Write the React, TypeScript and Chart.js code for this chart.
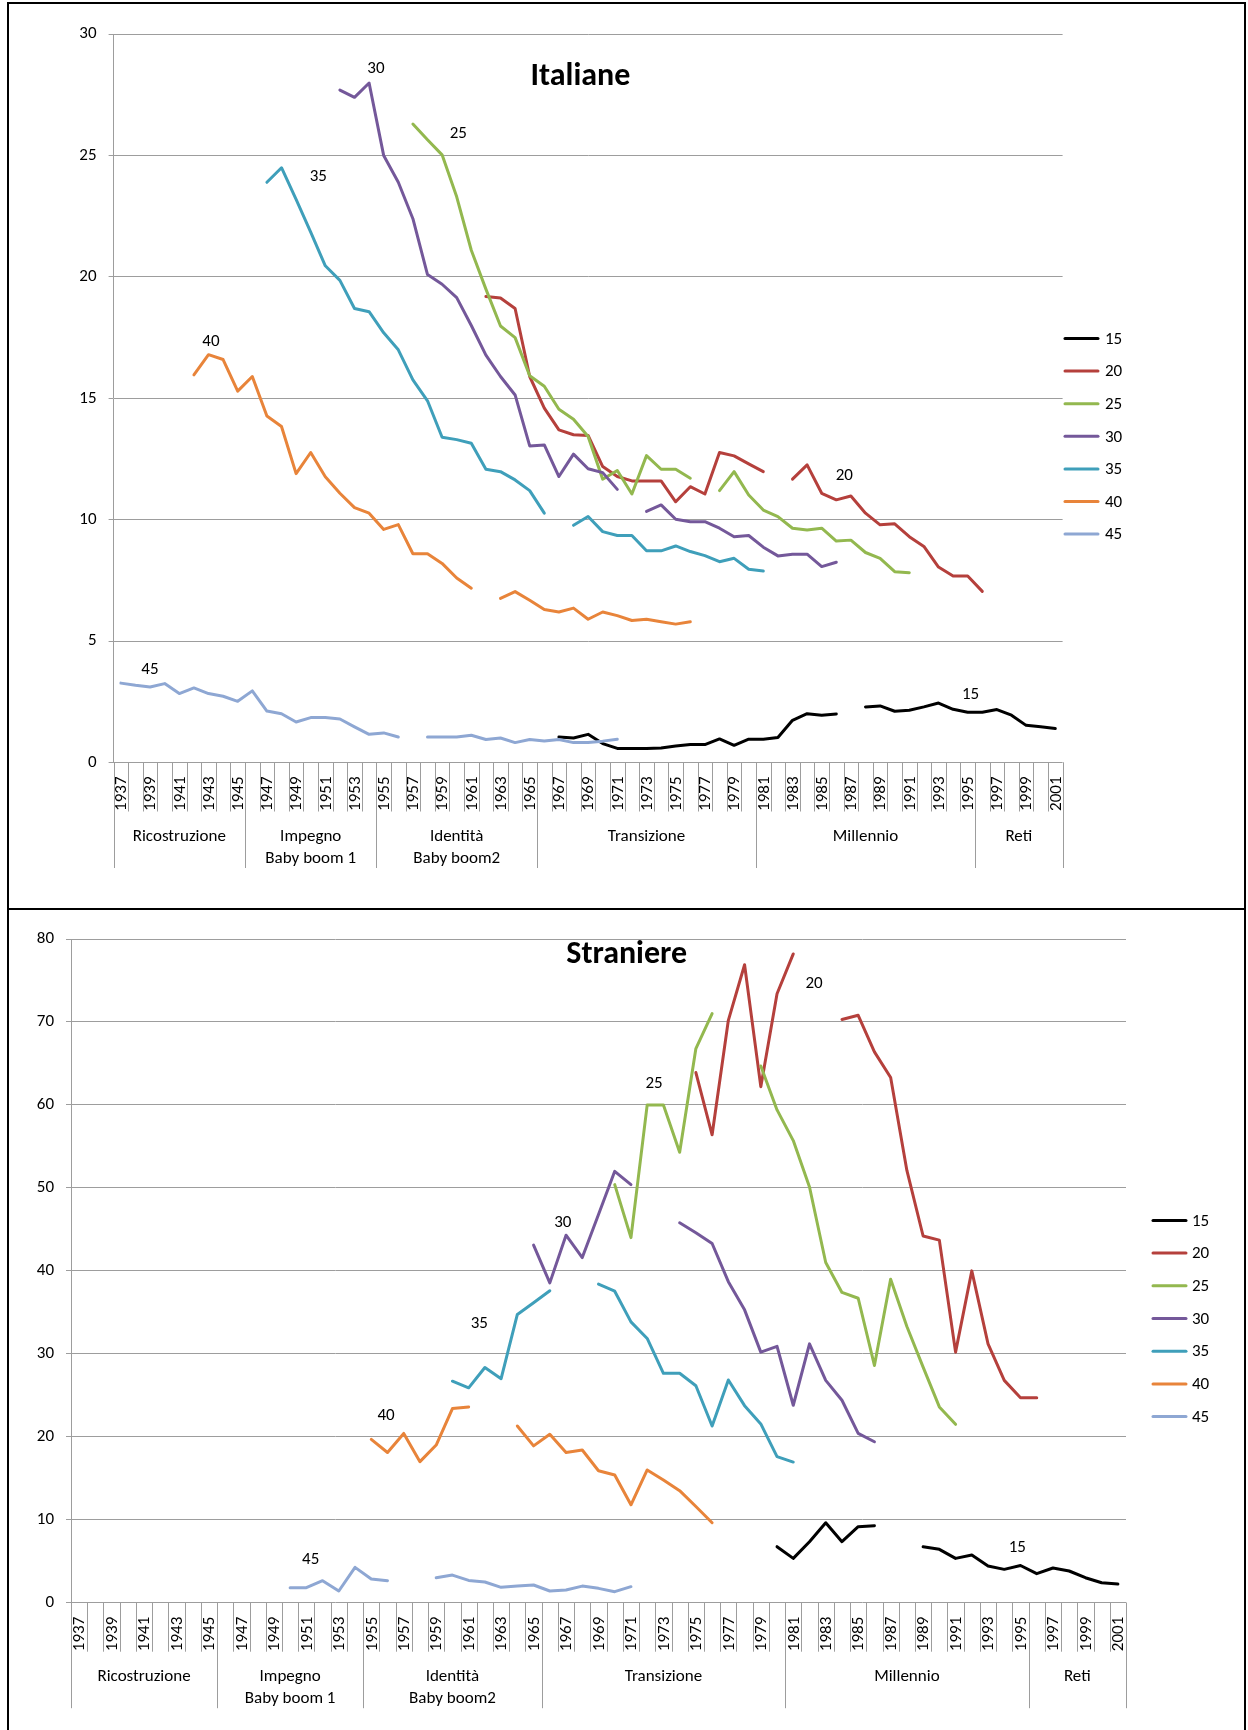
import React, { useEffect, useRef } from 'react';
import { Chart, registerables } from 'chart.js';

Chart.register(...registerables);

// ---------- categories ----------
const YEARS = [
  '1937', '1938', '1939', '1940', '1941', '1942', '1943', '1944', '1945', '1946',
  '1947', '1948', '1949', '1950', '1951', '1952', '1953', '1954', '1955', '1956',
  '1957', '1958', '1959', '1960', '1961', '1962', '1963', '1964', '1965', '1966',
  '1967', '1968', '1969', '1970', '1971', '1972', '1973', '1974', '1975', '1976',
  '1977', '1978', '1979', '1980', '1981', '1982', '1983', '1984', '1985', '1986',
  '1987', '1988', '1989', '1990', '1991', '1992', '1993', '1994', '1995', '1996',
  '1997', '1998', '1999', '2000', '2001',
];
const GROUP_NAMES = ['Ricostruzione', 'Impegno\nBaby boom 1', 'Identità\nBaby boom2', 'Transizione', 'Millennio', 'Reti'];
const GROUP_SPANS = [9, 9, 11, 15, 15, 6];

const SERIES_NAMES = ['15', '20', '25', '30', '35', '40', '45'];
const SERIES_COLORS = ['#000000', '#B5403C', '#93B84F', '#74589A', '#3F9FBA', '#E8843A', '#8EA7D3'];

// ---------- Italiane ----------
const IT_STARTS = [1967, 1962, 1957, 1952, 1947, 1942, 1937];
const IT_15 = [1.05, 1.01, 1.16, 0.78, 0.58, 0.58, 0.58, 0.6, 0.68, 0.74, 0.74, 0.97, 0.71, 0.96, 0.96, 1.03, 1.74, 2.01, 1.95, 2.0, null, 2.29, 2.33, 2.11, 2.15, 2.29, 2.45, 2.19, 2.07, 2.07, 2.18, 1.95, 1.53, 1.47, 1.4];
const IT_20 = [19.2, 19.13, 18.7, 15.9, 14.6, 13.7, 13.5, 13.47, 12.19, 11.78, 11.6, 11.6, 11.6, 10.74, 11.36, 11.06, 12.77, 12.63, 12.3, 11.98, null, 11.67, 12.26, 11.09, 10.82, 10.98, 10.27, 9.79, 9.83, 9.3, 8.9, 8.05, 7.68, 7.68, 7.05];
const IT_25 = [26.3, 25.65, 25.03, 23.3, 21.1, 19.5, 17.98, 17.5, 15.93, 15.5, 14.55, 14.14, 13.43, 11.67, 12.03, 11.06, 12.64, 12.08, 12.08, 11.71, null, 11.2, 11.98, 11.02, 10.4, 10.13, 9.65, 9.58, 9.65, 9.12, 9.16, 8.65, 8.41, 7.86, 7.82];
const IT_30 = [27.7, 27.4, 27.99, 25.0, 23.9, 22.4, 20.1, 19.7, 19.15, 18.0, 16.78, 15.9, 15.14, 13.04, 13.08, 11.78, 12.7, 12.1, 11.94, 11.25, null, 10.34, 10.61, 10.02, 9.92, 9.92, 9.65, 9.3, 9.35, 8.87, 8.51, 8.58, 8.58, 8.07, 8.25];
const IT_35 = [23.9, 24.5, 23.2, 21.85, 20.46, 19.86, 18.7, 18.57, 17.7, 17.0, 15.76, 14.9, 13.4, 13.3, 13.15, 12.08, 11.98, 11.64, 11.2, 10.27, null, 9.77, 10.13, 9.51, 9.35, 9.35, 8.72, 8.72, 8.92, 8.69, 8.52, 8.27, 8.41, 7.96, 7.89];
const IT_40 = [15.97, 16.8, 16.6, 15.3, 15.9, 14.27, 13.84, 11.9, 12.77, 11.77, 11.09, 10.5, 10.27, 9.6, 9.8, 8.6, 8.6, 8.2, 7.6, 7.18, null, 6.76, 7.04, 6.68, 6.3, 6.2, 6.36, 5.9, 6.2, 6.05, 5.85, 5.9, 5.8, 5.7, 5.8];
const IT_45 = [3.27, 3.18, 3.11, 3.25, 2.84, 3.07, 2.84, 2.73, 2.52, 2.95, 2.12, 2.01, 1.67, 1.85, 1.85, 1.79, 1.47, 1.16, 1.22, 1.05, null, 1.05, 1.05, 1.05, 1.12, 0.95, 1.01, 0.82, 0.95, 0.89, 0.95, 0.82, 0.82, 0.88, 0.96];
const IT_TICKS = [0, 5, 10, 15, 20, 25, 30];
// series tags: [text, category index, value]
const IT_TAGS: [string, number, number][] = [
  ['30', 17.47, 28.56], ['25', 23.11, 25.9], ['35', 13.52, 24.11], ['40', 6.17, 17.33],
  ['45', 1.99, 3.81], ['20', 49.55, 11.8], ['15', 58.2, 2.81],
];
const IT_TITLE: [string, number, number] = ['Italiane', 31.47, 28.25];

// ---------- Straniere ----------
const ST_STARTS = [1980, 1975, 1970, 1965, 1960, 1955, 1950];
const ST_15 = [6.75, 5.34, 7.35, 9.64, 7.35, 9.16, 9.28, null, null, 6.75, 6.43, 5.34, 5.74, 4.42, 4.02, 4.48, 3.5, 4.18, 3.82, 3.01, 2.41, 2.25];
const ST_20 = [63.9, 56.4, 70.2, 76.9, 62.2, 73.4, 78.2, null, null, 70.3, 70.8, 66.4, 63.3, 52.1, 44.2, 43.7, 30.2, 40.0, 31.2, 26.8, 24.7, 24.7];
const ST_25 = [50.4, 44.0, 60.0, 60.0, 54.3, 66.8, 71.0, null, null, 64.7, 59.4, 55.7, 50.1, 41.0, 37.4, 36.7, 28.6, 39.0, 33.3, 28.4, 23.6, 21.5];
const ST_30 = [43.1, 38.55, 44.3, 41.6, 46.8, 52.0, 50.4, null, null, 45.8, 44.6, 43.3, 38.7, 35.3, 30.2, 30.9, 23.8, 31.2, 26.8, 24.4, 20.4, 19.4];
const ST_35 = [26.7, 25.9, 28.35, 27.0, 34.75, 36.15, 37.6, null, null, 38.4, 37.55, 33.85, 31.85, 27.65, 27.65, 26.15, 21.3, 26.85, 23.75, 21.55, 17.6, 16.95];
const ST_40 = [19.68, 18.1, 20.4, 17.0, 19.0, 23.4, 23.6, null, null, 21.3, 18.9, 20.3, 18.1, 18.4, 15.9, 15.4, 11.8, 16.0, 14.8, 13.5, 11.6, 9.64];
const ST_45 = [1.81, 1.81, 2.65, 1.41, 4.26, 2.85, 2.65, null, null, 3.0, 3.33, 2.69, 2.49, 1.85, 2.0, 2.13, 1.41, 1.53, 2.0, 1.73, 1.33, 1.93];
const ST_TICKS = [0, 10, 20, 30, 40, 50, 60, 70, 80];
const ST_TAGS: [string, number, number][] = [
  ['40', 18.91, 22.5], ['45', 14.27, 5.23], ['35', 24.66, 33.66], ['30', 29.8, 45.83],
  ['25', 35.42, 62.58], ['20', 45.28, 74.63], ['15', 57.8, 6.67],
];
const ST_TITLE: [string, number, number] = ['Straniere', 33.74, 78.04];

// ---------- styling ----------
const FONT = 'Carlito, Lato, "Open Sans", sans-serif';
const FS = 17;
const GRID = '#9d9d9d';
const W = 1248;
const YW = 60;

type Area = { left: number; right: number; top: number; bottom: number };
type PanelCfg = {
  top: number;
  height: number;
  area: Area;
  ticks: number[];
  starts: number[];
  series: (number | null)[][];
  tags: [string, number, number][];
  title: [string, number, number];
  legend: { x1: number; x2: number; tx: number; y0: number; dy: number };
};

function expand(start: number, vals: (number | null)[]) {
  const first = YEARS.indexOf(String(start));
  return YEARS.map((_, i) => {
    const k = i - first;
    return k >= 0 && k < vals.length ? vals[k] : null;
  });
}

function decor(cfg: PanelCfg) {
  return {
    id: 'decor',
    afterDraw(chart: any) {
      const ctx: CanvasRenderingContext2D = chart.ctx;
      const { left, right, bottom } = chart.chartArea;
      const xs = chart.scales.x;
      const ys = chart.scales.y;
      const n = YEARS.length;
      const cw = (right - left) / n;
      ctx.save();
      // category tick lines
      ctx.strokeStyle = GRID;
      ctx.lineWidth = 1;
      ctx.beginPath();
      for (let i = 0; i <= n; i++) {
        const x = Math.round(left + i * cw) + 0.5;
        ctx.moveTo(x, bottom);
        ctx.lineTo(x, bottom + 49);
      }
      // group separators
      let acc = 0;
      const bounds = [0];
      GROUP_SPANS.forEach((s) => { acc += s; bounds.push(acc); });
      bounds.forEach((b) => {
        const x = Math.round(left + b * cw) + 0.5;
        ctx.moveTo(x, bottom);
        ctx.lineTo(x, bottom + 105.5);
      });
      ctx.stroke();

      // year labels (every other year)
      ctx.fillStyle = '#000';
      ctx.font = `${FS}px ${FONT}`;
      for (let i = 0; i < n; i += 2) {
        const x = xs.getPixelForValue(i) + 1;
        ctx.save();
        ctx.translate(x, bottom + 14);
        ctx.rotate(-Math.PI / 2);
        ctx.textAlign = 'right';
        ctx.textBaseline = 'middle';
        ctx.fillText(YEARS[i], 0, 0);
        ctx.restore();
      }

      // group labels
      ctx.textAlign = 'center';
      ctx.textBaseline = 'middle';
      GROUP_NAMES.forEach((g, k) => {
        const cx = left + ((bounds[k] + bounds[k + 1]) / 2) * cw;
        g.split('\n').forEach((line, j) => {
          ctx.fillText(line, cx, bottom + 74 + j * 22);
        });
      });

      // series tags
      cfg.tags.forEach(([t, ci, v]) => {
        ctx.fillText(t, xs.getPixelForValue(ci), ys.getPixelForValue(v));
      });

      // title
      ctx.font = `bold 32px ${FONT}`;
      ctx.fillText(cfg.title[0], xs.getPixelForValue(cfg.title[1]), ys.getPixelForValue(cfg.title[2]));

      // legend
      const lg = cfg.legend;
      ctx.font = `${FS}px ${FONT}`;
      ctx.textAlign = 'left';
      ctx.lineCap = 'round';
      ctx.lineWidth = 3;
      SERIES_NAMES.forEach((name, k) => {
        const y = lg.y0 + k * lg.dy;
        ctx.strokeStyle = SERIES_COLORS[k];
        ctx.beginPath();
        ctx.moveTo(lg.x1, y);
        ctx.lineTo(lg.x2, y);
        ctx.stroke();
        ctx.fillStyle = '#000';
        ctx.fillText(name, lg.tx, y + 1);
      });
      ctx.restore();
    },
  };
}

function Panel({ cfg }: { cfg: PanelCfg }) {
  const ref = useRef<HTMLCanvasElement>(null);
  useEffect(() => {
    const canvas = ref.current;
    if (!canvas) return;
    const H = cfg.height;
    const datasets = SERIES_NAMES.map((name, k) => ({
      label: name,
      data: expand(cfg.starts[k], cfg.series[k]),
      borderColor: SERIES_COLORS[k],
      backgroundColor: SERIES_COLORS[k],
      borderWidth: 3,
      pointRadius: 0,
      pointHoverRadius: 0,
      tension: 0,
      spanGaps: false,
      fill: false,
      borderJoinStyle: 'round' as const,
      borderCapStyle: 'round' as const,
      order: SERIES_NAMES.length - k,
    }));
    const yMax = cfg.ticks[cfg.ticks.length - 1];
    const chart = new Chart(canvas, {
      type: 'line',
      data: { labels: YEARS, datasets },
      options: {
        responsive: false,
        animation: false,
        events: [],
        layout: {
          padding: {
            left: cfg.area.left - YW,
            right: W - cfg.area.right,
            top: cfg.area.top,
            bottom: H - cfg.area.bottom,
          },
        },
        plugins: {
          legend: { display: false },
          title: { display: false },
          tooltip: { enabled: false },
        },
        scales: {
          x: { type: 'category', display: false, offset: true },
          y: {
            min: 0,
            max: yMax,
            afterFit: (s: any) => { s.width = YW; },
            afterBuildTicks: (s: any) => { s.ticks = cfg.ticks.map((v) => ({ value: v })); },
            ticks: { padding: 12, color: '#000', font: { family: FONT, size: FS } },
            grid: { color: GRID, lineWidth: 1, tickLength: 5, drawTicks: true },
            border: { display: true, color: GRID, width: 1 },
          },
        },
      } as any,
      plugins: [decor(cfg)],
    });
    return () => chart.destroy();
  }, [cfg]);
  return (
    <canvas
      ref={ref}
      width={W}
      height={cfg.height}
      style={{ position: 'absolute', left: 0, top: cfg.top, width: W, height: cfg.height }}
    />
  );
}

const TOP_CFG: PanelCfg = {
  top: 0,
  height: 909,
  area: { left: 113.6, right: 1062.6, top: 34.2, bottom: 762.5 },
  ticks: IT_TICKS,
  starts: IT_STARTS,
  series: [IT_15, IT_20, IT_25, IT_30, IT_35, IT_40, IT_45],
  tags: IT_TAGS,
  title: IT_TITLE,
  legend: { x1: 1065, x2: 1098, tx: 1105, y0: 338.5, dy: 32.6 },
};

const BOTTOM_CFG: PanelCfg = {
  top: 909,
  height: 821,
  area: { left: 71, right: 1126, top: 30, bottom: 693.7 },
  ticks: ST_TICKS,
  starts: ST_STARTS,
  series: [ST_15, ST_20, ST_25, ST_30, ST_35, ST_40, ST_45],
  tags: ST_TAGS,
  title: ST_TITLE,
  legend: { x1: 1153, x2: 1186, tx: 1192, y0: 311.4, dy: 32.7 },
};

export default function App() {
  const border = (s: React.CSSProperties) => (
    <div style={{ position: 'absolute', background: '#000', ...s }} />
  );
  return (
    <div style={{ position: 'absolute', left: 0, top: 0, width: W, height: 1730, background: '#fff', overflow: 'hidden' }}>
      <Panel cfg={TOP_CFG} />
      <Panel cfg={BOTTOM_CFG} />
      {border({ left: 7, top: 2, width: 1239, height: 2 })}
      {border({ left: 7, top: 2, width: 2, height: 1728 })}
      {border({ left: 1244, top: 2, width: 2, height: 1728 })}
      {border({ left: 7, top: 908, width: 1239, height: 2 })}
    </div>
  );
}
